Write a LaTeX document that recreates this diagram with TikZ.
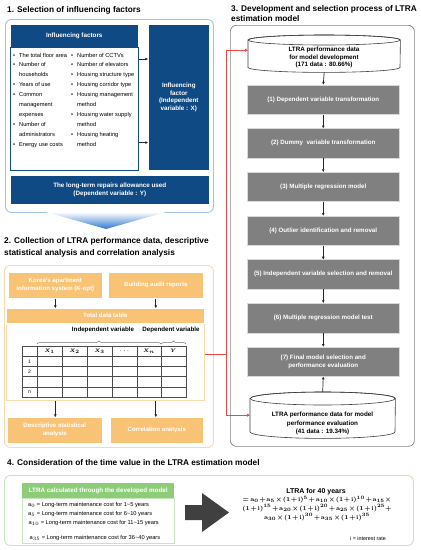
\documentclass[tikz,border=0pt]{standalone}
\usepackage{fontspec}
\setmainfont{Liberation Sans}
\usetikzlibrary{arrows.meta,decorations.pathreplacing,shadows,calc}
\definecolor{dblue}{RGB}{16,74,132}
\definecolor{lblue}{RGB}{160,196,228}
\definecolor{ofill}{RGB}{249,195,118}
\definecolor{oline}{RGB}{250,218,170}
\definecolor{gbox}{RGB}{128,128,128}
\definecolor{gfill}{RGB}{141,204,120}
\definecolor{gline}{RGB}{200,230,190}
\definecolor{rline}{RGB}{240,70,70}
\definecolor{darr}{RGB}{64,64,64}
\definecolor{abl}{RGB}{45,120,210}
\newcommand\tightmath{\medmuskip=1.5mu\relax\thickmuskip=2.5mu\relax}
\begin{document}
\begin{tikzpicture}[x=1pt,y=-1pt,
  ttl/.style={anchor=base west,inner sep=0,font=\fontsize{8.3}{10}\selectfont\bfseries},
  frame/.style={rounded corners=6pt,line width=0.9pt,anchor=north west,inner sep=0,fill=white},
  bbox/.style={fill=dblue,draw=white,line width=0.6pt,text=white,anchor=north west,inner sep=0,align=center,font=\fontsize{6.3}{7.5}\selectfont\bfseries},
  obox/.style={fill=ofill,draw=white,line width=0.6pt,text=white,anchor=north west,inner sep=0,align=center,font=\fontsize{6.1}{8}\selectfont\bfseries},
  gstep/.style={fill=gbox,draw=black!15,line width=0.5pt,text=white,anchor=north west,inner sep=0,align=center,minimum width=152,minimum height=29.5,font=\fontsize{6.2}{8.6}\selectfont\bfseries,drop shadow={shadow xshift=0.7pt,shadow yshift=-0.7pt,opacity=0.35}},
  arr/.style={-{Triangle[length=2.6pt,width=2.4pt]},line width=0.7pt,black!85},
  rarr/.style={-{Triangle[length=3pt,width=3pt]},line width=0.9pt,rline},
  cyl/.style={draw=black!75,line width=0.6pt,fill=white},
  lst/.style={anchor=base west,inner sep=0,font=\fontsize{5.7}{9.9}\selectfont},
  lbl/.style={inner sep=0,font=\fontsize{6.2}{7}\selectfont\bfseries},
  cell/.style={inner sep=0,font=\fontsize{5}{5.5}\selectfont}
]
\useasboundingbox (0,0) rectangle (421,550);
\fill[white] (0,0) rectangle (421,550);

% ---------------- Section 1 ----------------
\node[ttl] (t1) at (7,12.8) {1. Selection of influencing factors};
\node[frame,draw=lblue,minimum width=208,minimum height=193] (f1) at (5,19) {};
\node[bbox,minimum width=128,minimum height=23] (ifh) at (10,24) {Influencing factors};
\node[draw=dblue,fill=white,line width=0.6pt,anchor=north west,inner sep=0,minimum width=128,minimum height=123] (ifl) at (10,47) {};
\node[lst] (lcol) at (13,57) {\begin{tabular}[t]{@{}l@{\hspace{4pt}}l@{}}
\textbullet & The total floor area\\
\textbullet & Number of\\
 & households\\
\textbullet & Years of use\\
\textbullet & Common\\
 & management\\
 & expenses\\
\textbullet & Number of\\
 & administrators\\
\textbullet & Energy use costs
\end{tabular}};
\node[lst] (rcol) at (71,57) {\begin{tabular}[t]{@{}l@{\hspace{4pt}}l@{}}
\textbullet & Number of CCTVs\\
\textbullet & Number of elevators\\
\textbullet & Housing structure type\\
\textbullet & Housing corridor type\\
\textbullet & Housing management\\
 & method\\
\textbullet & Housing water supply\\
 & method\\
\textbullet & Housing heating\\
 & method
\end{tabular}};
\node[bbox,minimum width=61,minimum height=146] (ifr) at (148,24) {Influencing\\factor\\(Independent\\variable : X)};
\node[bbox,minimum width=199,minimum height=29] (dep) at (10,175) {The long-term repairs allowance used\\(Dependent variable : Y)};
\draw[arr] ([yshift=-12pt]ifl.north east) -- ([yshift=-12pt]ifl.north east -| ifr.west);
\draw[arr] ([yshift=28pt]ifl.south east) -- ([yshift=28pt]ifl.south east -| ifr.west);

% blue down arrow
\shade[top color=white,bottom color=abl] (46,212) -- (166,212) -- (106,229) -- cycle;

% ---------------- Section 2 ----------------
\node[ttl] (t2a) at (4,243) {2. Collection of LTRA performance data, descriptive};
\node[ttl] (t2b) at (4,255) {statistical analysis and correlation analysis};
\node[frame,draw=oline,minimum width=209,minimum height=182] (f2) at (4,265) {};
\node[obox,minimum width=94,minimum height=26] (kapt) at (8,272) {Korea's apartment\\information system (K-apt)};
\node[obox,minimum width=95,minimum height=26] (audit) at (108,272) {Building audit reports};
\node[draw=oline,fill=white,line width=0.7pt,anchor=north west,inner sep=0,minimum width=198,minimum height=77] (tarea) at (6,323) {};
\node[obox,minimum width=198,minimum height=15] (tdt) at (6,308) {Total data table};
\draw[arr] (kapt.south) -- (kapt.south |- tdt.north);
\draw[arr] (audit.south) -- (audit.south |- tdt.north);

\node[lbl] (indl) at (103,330) {Independent variable};
\node[lbl] (depl) at (171,330) {Dependent variable};
\draw[black!55,line width=0.5pt,decorate,decoration={brace,amplitude=3pt}] (37,344) -- (161,344);
\draw[black!55,line width=0.5pt,decorate,decoration={brace,amplitude=3pt}] (161,344) -- (186,344);

\node[draw=black!70,line width=0.6pt,anchor=north west,minimum width=164,minimum height=51,inner sep=0] (tbl) at (22,346) {};
\foreach \x in {37,62,87,112,137,161} \draw[black!70,line width=0.6pt] (\x,346) -- (\x,397);
\foreach \y in {356.2,366.4,376.6,386.8} \draw[black!70,line width=0.6pt] (22,\y) -- (186,\y);
\foreach \x/\t [count=\i] in {49.5/{$X_1$},74.5/{$X_2$},99.5/{$X_3$},124.5/{$\cdots$},149/{$X_n$},173.5/{$Y$}}
  \node[cell,font=\fontsize{5}{5.5}\selectfont\boldmath] (h\i) at (\x,351.1) {\t};
\node[cell] (r1) at (29.5,361.3) {1};
\node[cell] (r2) at (29.5,371.5) {2};
\node[cell,text=black!35] (r3) at (29.5,381.7) {$\vdots$};
\node[cell] (r4) at (29.5,391.9) {n};

\node[obox,minimum width=95,minimum height=26] (desc) at (7,417) {Descriptive statistical\\analysis};
\node[obox,minimum width=93,minimum height=26] (corr) at (110,417) {Correlation analysis};
\draw[arr] (kapt.south |- tarea.south) -- (kapt.south |- desc.north);
\draw[arr] (audit.south |- tarea.south) -- (audit.south |- corr.north);

% ---------------- Section 3 ----------------
\node[ttl] (t3a) at (231,11) {3. Development and selection process of LTRA};
\node[ttl] (t3b) at (231,21.5) {estimation model};
\node[frame,draw=black!50,line width=0.7pt,minimum width=184,minimum height=421] (f3) at (230,25) {};

\node[anchor=north west,minimum width=152,minimum height=37,inner sep=0] (cyl1) at (248,35) {};
\draw[cyl] ([yshift=-5pt]cyl1.north west) -- ([yshift=5pt]cyl1.south west) arc[start angle=180,end angle=360,x radius=76pt,y radius=5pt] -- ([yshift=-5pt]cyl1.north east) arc[start angle=0,end angle=180,x radius=76pt,y radius=5pt] -- cycle;
\draw[cyl,fill=none] ([yshift=-5pt]cyl1.north) ellipse[x radius=76pt,y radius=5pt];
\node[lbl,align=center,font=\fontsize{6.3}{7.6}\selectfont\bfseries] (cyl1t) at (324,57.5) {LTRA performance data\\for model development\\(171 data : 80.66\%)};

\foreach \t [count=\i] in {{(1) Dependent variable transformation},{(2) Dummy\ \ variable transformation},{(3) Multiple regression model},{(4) Outlier identification and removal},{(5) Independent variable selection and removal},{(6) Multiple regression model test},{(7) Final model selection and\\performance evaluation}}
  \node[gstep] (b\i) at (247,{84.5+43.7*(\i-1)}) {\t};

\node[anchor=north west,minimum width=145,minimum height=46,inner sep=0] (cyl2) at (250,392) {};
\draw[cyl] ([yshift=-6.5pt]cyl2.north west) -- ([yshift=6.5pt]cyl2.south west) arc[start angle=180,end angle=360,x radius=72.5pt,y radius=6.5pt] -- ([yshift=-6.5pt]cyl2.north east) arc[start angle=0,end angle=180,x radius=72.5pt,y radius=6.5pt] -- cycle;
\draw[cyl,fill=none] ([yshift=-6.5pt]cyl2.north) ellipse[x radius=72.5pt,y radius=6.5pt];
\node[lbl,align=center,font=\fontsize{6.3}{8.2}\selectfont\bfseries] (cyl2t) at (322.5,423.5) {LTRA performance data for model\\performance evaluation\\(41 data : 19.34\%)};

\draw[arr] (cyl1.south) -- (b1.north);
\foreach \i/\j in {1/2,2/3,3/4,4/5,5/6,6/7} \draw[arr] (b\i.south) -- (b\j.north);
\draw[arr] (cyl2.north) -- (b7.south);

% red connector
\coordinate (rj) at (226,354);
\draw[rline,line width=0.9pt] (tarea.east |- rj) -- (rj);
\draw[rarr] (rj) |- ([yshift=3.5pt]cyl1.west);
\draw[rarr] (rj) |- (cyl2.west);

% ---------------- Section 4 ----------------
\node[ttl] (t4) at (7,465) {4. Consideration of the time value in the LTRA estimation model};
\node[frame,draw=gline,minimum width=409,minimum height=70] (f4) at (4,475) {};
\node[draw=gline,fill=white,line width=0.7pt,anchor=north west,inner sep=0,minimum width=152,minimum height=45,drop shadow={shadow xshift=0.7pt,shadow yshift=-0.7pt,opacity=0.25}] (gbody) at (22,498) {};
\node[fill=gfill,text=white,anchor=north west,inner sep=0,minimum width=152,minimum height=15,font=\fontsize{6.3}{7}\selectfont\bfseries] (ghead) at (22,483) {LTRA calculated through the developed model};
\node[lst,font=\fontsize{5.7}{6}\selectfont] (a0) at (28,506.8) {$\mathrm{a}_{0}$ = Long-term maintenance cost for 1\textasciitilde5 years};
\node[lst,font=\fontsize{5.7}{6}\selectfont] (a5) at (28,515.1) {$\mathrm{a}_{5}$ = Long-term maintenance cost for 6\textasciitilde10 years};
\node[lst,font=\fontsize{5.7}{6}\selectfont] (a10) at (28.5,524.5) {$\mathrm{a}_{10}$ = Long-term maintenance cost for 11\textasciitilde15 years};
\node[cell,text=black!35] (vd) at (86,530.5) {$\vdots$};
\node[lst,font=\fontsize{5.7}{6}\selectfont] (a35) at (29.5,539.3) {$\mathrm{a}_{35}$ = Long-term maintenance cost for 36\textasciitilde40 years};

\fill[darr] (185,505) -- (202,505) -- (202,493) -- (229,512.5) -- (202,532) -- (202,520) -- (185,520) -- cycle;

\node[inner sep=0,font=\fontsize{7}{8}\selectfont\bfseries] (l40) at (316,492) {LTRA for 40 years};
\node[inner sep=0,align=center,font=\fontsize{6}{8.6}\selectfont\boldmath] (form) at (317,508.3) {$\tightmath=\mathbf{a}_0+\mathbf{a}_5\times(1+\mathbf{i})^5+\mathbf{a}_{10}\times(1+\mathbf{i})^{10}+\mathbf{a}_{15}\times$\\
$\tightmath(1+\mathbf{i})^{15}+\mathbf{a}_{20}\times(1+\mathbf{i})^{20}+\mathbf{a}_{25}\times(1+\mathbf{i})^{25}+$\\
$\tightmath\mathbf{a}_{30}\times(1+\mathbf{i})^{30}+\mathbf{a}_{35}\times(1+\mathbf{i})^{35}$};
\node[inner sep=0,font=\fontsize{5.4}{6}\selectfont] (irate) at (368,539) {i = interest rate};
\end{tikzpicture}
\end{document}
